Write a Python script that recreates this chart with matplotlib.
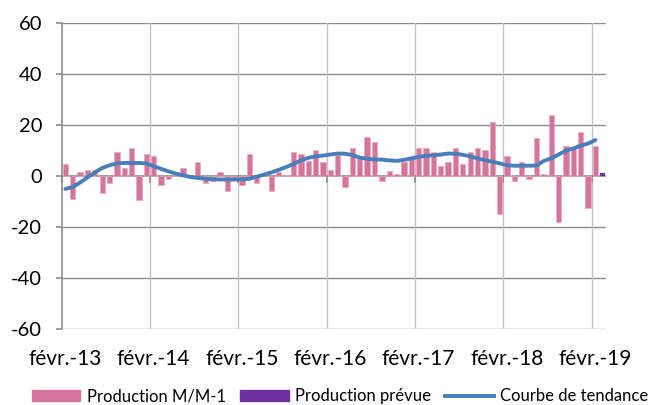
import numpy as np
import matplotlib
matplotlib.use('Agg')
import matplotlib.pyplot as plt
from matplotlib.patches import Patch
from matplotlib.lines import Line2D

# monthly production change, Feb 2013 .. Feb 2019
production_mm1 = [4.9, -8.8, 1.8, 2.6, 2.6, -6.5, -2.6, 9.4, 3.3, 10.9, -9.5, 8.7,
                  7.9, -3.4, -1.2, 0.3, 3.3, 0.4, 5.6, -2.6, -1.9, 1.8, -5.8, -0.6,
                  -3.4, 8.7, -2.6, 1.0, -5.8, 1.5, 0.5, 9.4, 8.6, 5.8, 10.3, 5.6,
                  2.6, 8.2, -4.2, 10.9, 8.0, 15.5, 13.3, -1.9, 1.9, 1.0, 5.6, 7.0,
                  11.0, 11.0, 9.4, 4.1, 5.7, 11.0, 4.8, 9.4, 11.0, 10.3, 21.2, -14.8,
                  7.9, -2.0, 5.7, -1.3, 15.0, 1.0, 24.2, -17.9, 11.9, 11.0, 17.2, -12.6,
                  11.9]
# forecast for Mar 2019
production_prevue = [1.2]
trend = [-5.0, -4.3, -2.5, -0.5, 1.5, 3.2, 4.3, 5.0, 5.2, 5.2, 5.2, 5.0,
         3.9, 2.9, 1.9, 1.0, 0.3, -0.3, -0.7, -1.0, -1.2, -1.3, -1.3, -1.3,
         -1.3, -1.0, -0.2, 0.6, 1.5, 2.5, 3.6, 4.8, 6.2, 7.2, 7.8, 8.1,
         8.5, 8.9, 8.8, 8.3, 7.3, 6.8, 6.6, 6.5, 6.2, 6.0, 6.4, 7.0,
         7.6, 8.0, 8.2, 8.5, 8.9, 8.8, 8.4, 7.8, 7.0, 6.3, 5.7, 5.0,
         4.3, 4.1, 4.1, 4.1, 4.2, 6.0, 7.0, 8.5, 10.0, 10.9, 12.0, 12.8,
         14.2]
x_labels = ['févr.-13', 'févr.-14', 'févr.-15', 'févr.-16', 'févr.-17', 'févr.-18', 'févr.-19']
y_ticks = [-60, -40, -20, 0, 20, 40, 60]

pink = '#d6759b'
purple = '#7030a0'
blue = '#4a7ebb'

plt.rcParams['font.family'] = ['Lato', 'DejaVu Sans']

fig = plt.figure(figsize=(6.52, 4.05), dpi=100)
ax = fig.add_axes([0.0946, 0.188, 0.8354, 0.754])

n = len(production_mm1)
x = np.arange(n)
ax.bar(x, production_mm1, width=0.72, color=pink, edgecolor='#e9a9c0', linewidth=0.5, zorder=3)
ax.bar([n], production_prevue, width=0.72, color=purple, zorder=3)
ax.plot(np.arange(len(trend)), trend, color=blue, linewidth=2.8, solid_capstyle='round', zorder=4)

n_total = n + len(production_prevue)
ax.set_xlim(-0.5, n_total - 0.5)
ax.set_ylim(-60, 60)

# horizontal grid
for yv in y_ticks:
    if yv != 0:
        ax.axhline(yv, color='#8c8c8c', linewidth=1.0, zorder=1)
# vertical grid at each February boundary
feb_edges = np.arange(-0.5, n_total, 12)
for xv in feb_edges[1:]:
    ax.axvline(xv, color='#c3c3c3', linewidth=1.0, zorder=1)
# x axis at zero with downward ticks
ax.axhline(0, color='#8c8c8c', linewidth=1.2, zorder=2)
for xv in feb_edges:
    ax.plot([xv, xv], [0, -2.2], color='#8c8c8c', linewidth=1.2, zorder=2, clip_on=False)

for s in ['top', 'right', 'bottom']:
    ax.spines[s].set_visible(False)
ax.spines['left'].set_color('#8c8c8c')
ax.spines['left'].set_linewidth(1.2)

ax.set_yticks(y_ticks)
ax.set_yticklabels([str(v) for v in y_ticks], fontsize=14.5)
ax.tick_params(axis='y', length=4, color='#8c8c8c', width=1.2, pad=10)
ax.set_xticks([])

# one label per February, below the plot area
for i, lab in enumerate(x_labels):
    ax.text(i * 12, -0.098, lab, transform=ax.get_xaxis_transform(), ha='center', va='center', fontsize=15)

handles = [Patch(color=pink), Patch(color=purple), Line2D([0], [0], color=blue, linewidth=2.8)]
fig.legend(handles, ['Production M/M-1', 'Production prévue', 'Courbe de tendance'],
           loc='center', bbox_to_anchor=(0.522, 0.022), ncol=3, frameon=False, fontsize=12,
           handlelength=2.9, handleheight=0.6, handletextpad=0.4, columnspacing=0.85,
           borderpad=0.0, borderaxespad=0.0)

fig.savefig('out.png', dpi=100)
